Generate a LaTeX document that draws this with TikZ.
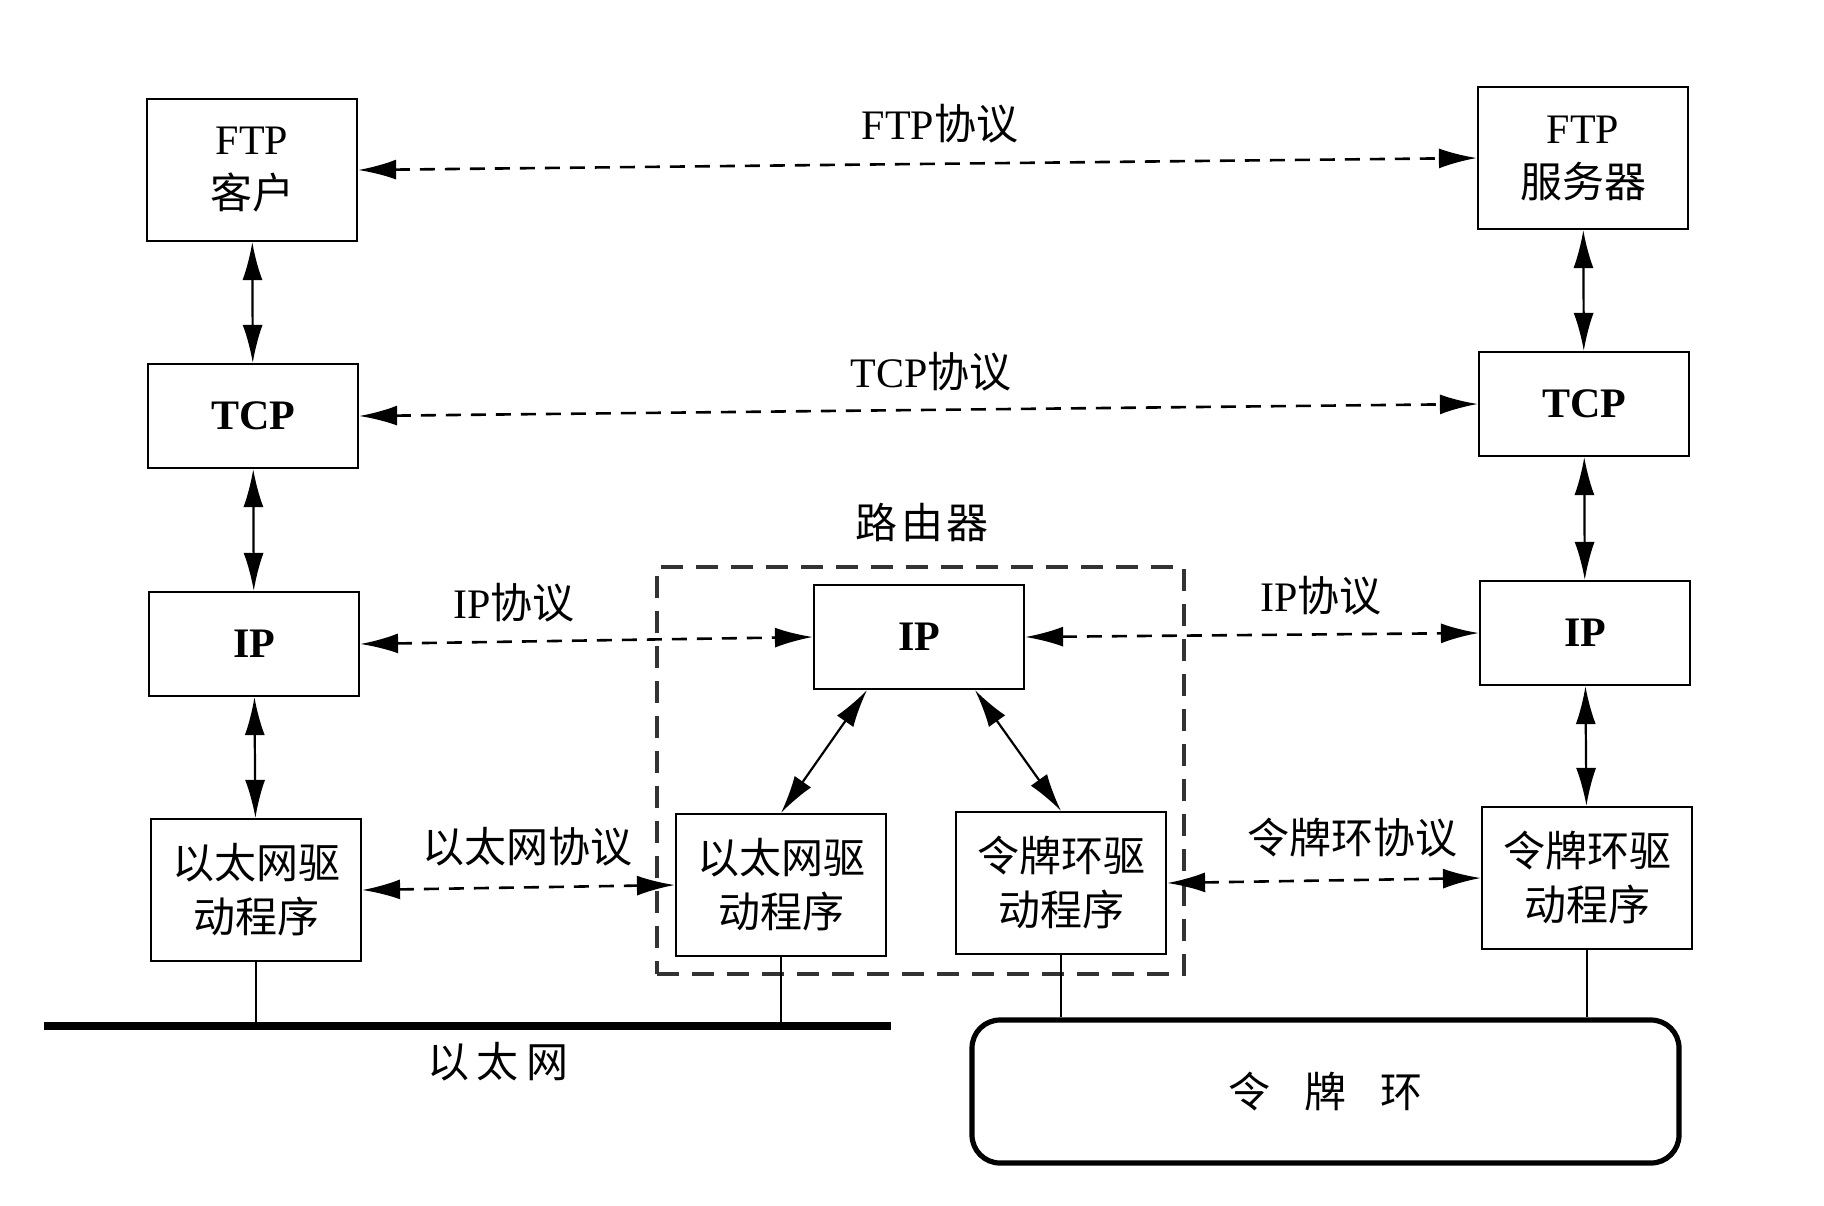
\documentclass[tikz,border=0pt]{standalone}
\usepackage{fontspec}
\setmainfont{Liberation Serif}
\newfontfamily\cjk{Noto Sans CJK SC}
\usetikzlibrary{arrows.meta,calc}
\begin{document}
\begin{tikzpicture}[x=0.5pt,y=-0.5pt,
  txt/.style={font=\fontsize{21}{27}\selectfont},
  box/.style={txt,draw,line width=1.1pt,minimum width=105pt,align=center,inner sep=0pt},
  tall/.style={box,minimum height=71pt},
  short/.style={box,minimum height=52pt},
  link/.style={line width=1.1pt,{Latex[length=19pt,width=10pt]}-{Latex[length=19pt,width=10pt]}},
  proto/.style={link,line width=1.3pt,dash pattern=on 7.5pt off 5pt},
  wire/.style={line width=0.9pt}]
\useasboundingbox (0,0) rectangle (1824,1205);

% left host
\node[tall]  (ftpc) at (252,170) {FTP\\{\cjk 客户}};
\node[short] (tcpl) at (253,416) {\bfseries TCP};
\node[short] (ipl)  at (254,644) {\bfseries IP};
\node[tall]  (ethl) at (256,890) {{\cjk 以太网驱}\\{\cjk 动程序}};

% right host
\node[tall]  (ftps) at (1583,158) {FTP\\{\cjk 服务器}};
\node[short] (tcpr) at (1584,404) {\bfseries TCP};
\node[short] (ipr)  at (1585,633) {\bfseries IP};
\node[tall]  (trr)  at (1587,878) {{\cjk 令牌环驱}\\{\cjk 动程序}};

% router
\node[draw,line width=1.7pt,dash pattern=on 11pt off 6.5pt,draw=black!80,
      minimum width=263.5pt,minimum height=203.5pt] (router) at (920.5,770.5) {};
\node[txt] (routerlbl) at (922,523) {\cjk 路\hspace{2pt}由\hspace{2pt}器};
\node[short] (ipm)  at (919,637) {\bfseries IP};
\node[tall]  (ethm) at (781,885) {{\cjk 以太网驱}\\{\cjk 动程序}};
\node[tall]  (trm)  at (1061,883) {{\cjk 令牌环驱}\\{\cjk 动程序}};

% networks
\coordinate (ethA) at (44,1026);
\coordinate (ethB) at (891,1026);
\draw[line width=4pt] (ethA) -- (ethB);
\node[txt] (ethlbl) at (498,1062) {\cjk 以\hspace{4pt}太\hspace{4pt}网};
\node[draw,line width=2.6pt,rounded corners=14pt,minimum width=353.5pt,
      minimum height=71.5pt,txt] (ring) at (1325.5,1091.5)
      {\cjk 令\hspace{17pt}牌\hspace{17pt}环};

\draw[wire] (ethl.south) -- (ethl.south |- ethA);
\draw[wire] (ethm.south) -- (ethm.south |- ethA);
\draw[wire] (trm.south) -- (trm.south |- ring.north);
\draw[wire] (trr.south) -- (trr.south |- ring.north);

% vertical stacks
\draw[link] (ftpc) -- (tcpl);
\draw[link] (tcpl) -- (ipl);
\draw[link] (ipl) -- (ethl);
\draw[link] (ftps) -- (tcpr);
\draw[link] (tcpr) -- (ipr);
\draw[link] (ipr) -- (trr);
\draw[link] ($(ipm.south)+(-52,0)$) -- (ethm.north);
\draw[link] ($(ipm.south)+(56,0)$) -- (trm.north);

% peer protocols
\draw[proto] (ftpc.east) -- (ftps.west);
\node[txt] (ftplbl) at (940,124) {FTP{\cjk 协议}};
\draw[proto] (tcpl.east) -- (tcpr.west);
\node[txt] (tcplbl) at (931,372) {TCP{\cjk 协议}};
\draw[proto] (ipl.east) -- (ipm.west);
\node[txt] (iplbl1) at (514,603) {IP{\cjk 协议}};
\draw[proto] (ipm.east) -- (ipr.west);
\node[txt] (iplbl2) at (1321,596) {IP{\cjk 协议}};
\draw[proto] (ethl.east) -- (ethm.west);
\node[txt] (ethplbl) at (527,847) {\cjk 以太网协议};
\draw[proto] (trm.east) -- (trr.west);
\node[txt] (trplbl) at (1352,838) {\cjk 令牌环协议};
\end{tikzpicture}
\end{document}
